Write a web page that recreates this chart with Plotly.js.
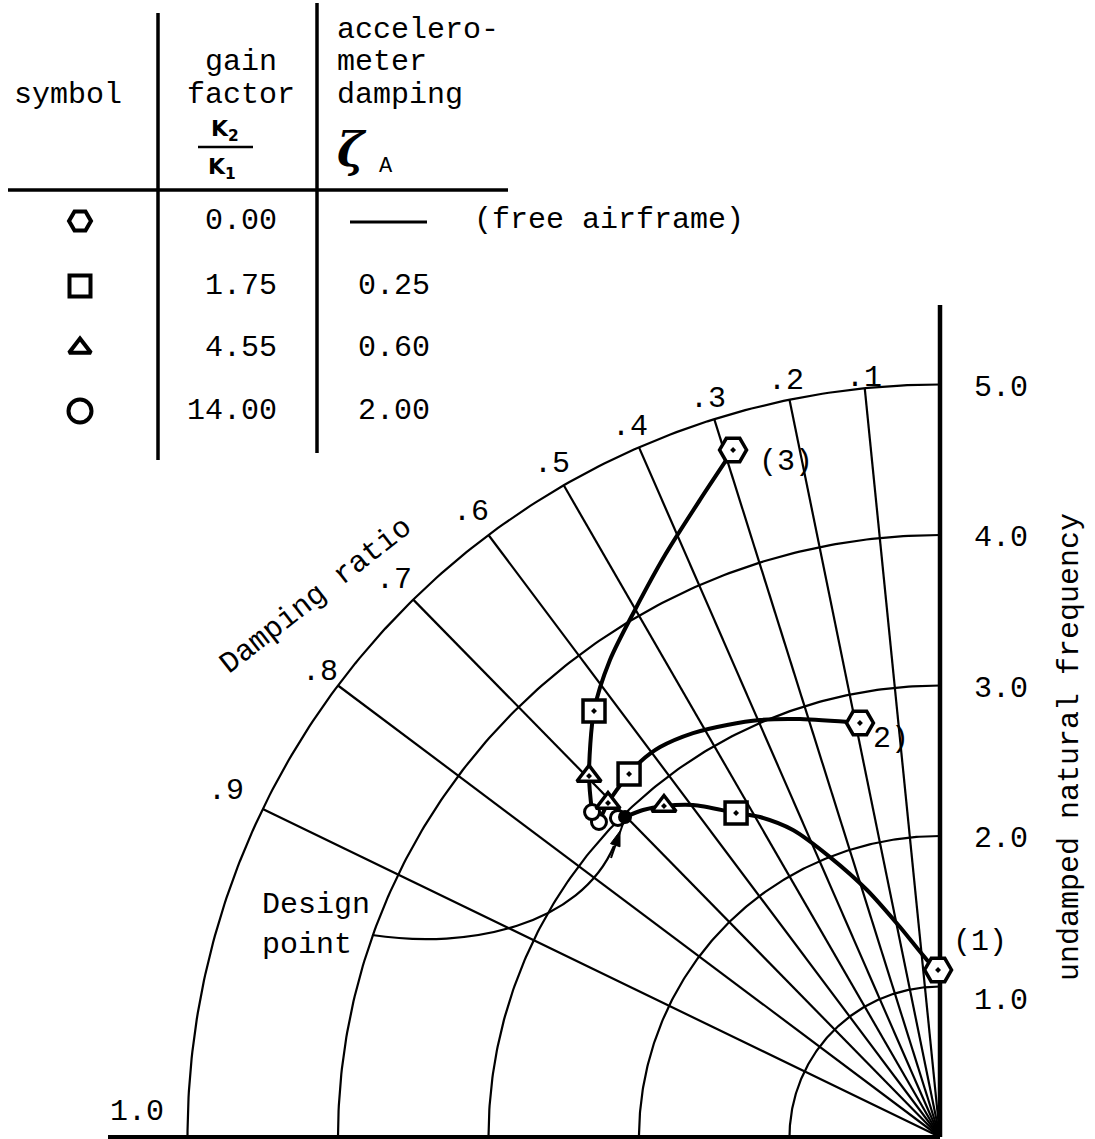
<!DOCTYPE html>
<html>
<head>
<meta charset="utf-8">
<script src="https://cdn.plot.ly/plotly-3.0.1.min.js"></script>
<style>html,body{margin:0;padding:0;background:#fff;}</style>
</head>
<body>
<div id="chart" style="width:1095px;height:1139px;"></div>
<script>
// ---------------- data ----------------
const freqCircles = [1, 2, 3, 4, 5];                       // undamped natural frequency circles
const freqLabels = ['1.0', '2.0', '3.0', '4.0', '5.0'];
const dampingRatios = [0.1, 0.2, 0.3, 0.4, 0.5, 0.6, 0.7, 0.8, 0.9];
const dampingLabels = ['.1', '.2', '.3', '.4', '.5', '.6', '.7', '.8', '.9'];

const locus1X = [-0.013, -0.086, -0.266, -0.485, -0.731, -0.977, -1.196, -1.355, -1.641, -1.834, -1.973, -2.093];
const locus1Y = [1.110, 1.176, 1.395, 1.641, 1.860, 2.040, 2.126, 2.153, 2.206, 2.199, 2.173, 2.126];
const locus2X = [-0.532, -0.930, -1.196, -1.415, -1.641, -1.860, -1.993, -2.066, -2.206, -2.266];
const locus2Y = [2.751, 2.777, 2.771, 2.738, 2.684, 2.591, 2.492, 2.412, 2.219, 2.093];
const locus3X = [-1.375, -1.595, -1.827, -2.027, -2.193, -2.299, -2.332, -2.312];
const locus3Y = [4.565, 4.233, 3.867, 3.502, 3.169, 2.831, 2.399, 2.159];

// marked points: K2/K1 = 0 (free airframe), 1.75, 4.55, 14.00
const hexX = [-0.013, -0.532, -1.375];
const hexY = [1.110, 2.751, 4.565];
const hexLabels = ['(1)', '2)', '(3)'];
const squareX = [-1.355, -2.066, -2.299];
const squareY = [2.153, 2.412, 2.831];
const triX = [-1.834, -2.206, -2.332];
const triY = [2.199, 2.219, 2.399];
const circX = [-2.140, -2.266, -2.312];
const circY = [2.120, 2.093, 2.159];
const designX = [-2.093];
const designY = [2.126];

// table
const tableGain = ['0.00', '1.75', '4.55', '14.00'];
const tableAccDamping = ['', '0.25', '0.60', '2.00'];
const tableSymbols = ['hexagon2', 'square', 'triangle-up', 'circle'];

// ---------------- geometry (pixels) ----------------
const W = 1095, H = 1139, S = 150.5, OX = 940, OY = 1137;
const FONT = 'Liberation Mono, Courier New, monospace';
const FS = 30;
const BLK = 'black';
const px2x = p => (p - OX) / S, px2y = p => (OY - p) / S;

const traces = [];
const skip = {hoverinfo: 'skip', showlegend: false};

// frequency arcs
const rMax = Math.max(...freqCircles);
freqCircles.forEach(r => {
  const xs = [], ys = [];
  for (let i = 0; i <= 180; i++) {
    const t = i / 180 * Math.PI / 2;
    xs.push(-r * Math.sin(t)); ys.push(r * Math.cos(t));
  }
  traces.push(Object.assign({x: xs, y: ys, mode: 'lines', line: {color: BLK, width: 2.2}}, skip));
});
// damping-ratio rays
dampingRatios.forEach(z => {
  traces.push(Object.assign({x: [0, -rMax * z], y: [0, rMax * Math.sqrt(1 - z * z)],
    mode: 'lines', line: {color: BLK, width: 2.2}}, skip));
});
// axes (imaginary axis zeta=0 and real axis zeta=1)
traces.push(Object.assign({x: [0, 0], y: [0, px2y(305)], mode: 'lines', line: {color: BLK, width: 4.5}}, skip));
traces.push(Object.assign({x: [px2x(108), 0], y: [0, 0], mode: 'lines', line: {color: BLK, width: 4}}, skip));

// loci
[[locus1X, locus1Y], [locus2X, locus2Y], [locus3X, locus3Y]].forEach(([lx, ly]) => {
  traces.push(Object.assign({x: lx, y: ly, mode: 'lines',
    line: {color: BLK, width: 4, shape: 'spline', smoothing: 0.8}}, skip));
});

// markers
const mk = (x, y, sym, size, lw) => Object.assign({x: x, y: y, mode: 'markers',
  marker: {symbol: sym, size: size, color: 'white', line: {color: BLK, width: lw}}}, skip);
traces.push(mk(circX, circY, 'circle', 15, 3));
traces.push(mk(triX, triY, 'triangle-up-dot', 21, 3.5));
traces.push(mk(squareX, squareY, 'square-dot', 22, 3.5));
traces.push(mk(hexX, hexY, 'hexagon2-dot', 27, 3.5));
traces.push(Object.assign({x: designX, y: designY, mode: 'markers',
  marker: {symbol: 'circle', size: 14, color: BLK}}, skip));

// table symbols (legend column of the table), one trace per symbol
const tabRowsPx = [221, 286, 348, 411];
const tabSymSize = [22, 21, 19, 23];
tableSymbols.forEach((sym, i) => {
  traces.push(mk([px2x(80)], [px2y(tabRowsPx[i])], sym, tabSymSize[i], 4));
});

// ---------------- annotations ----------------
const ann = [];
const txt = (x, y, t, opt) => Object.assign({x: x, y: y, xref: 'x2', yref: 'y2', text: t, showarrow: false,
  font: {family: FONT, size: FS, color: BLK}, xanchor: 'center', yanchor: 'middle'}, opt || {});

// damping labels
const labelR = [5.07, 5.13, 5.14, 5.15, 5.16, 5.19, 5.18, 5.15, 5.27];
dampingRatios.forEach((z, i) => {
  const rl = labelR[i];
  ann.push({x: -rl * z, y: rl * Math.sqrt(1 - z * z), xref: 'x', yref: 'y', text: dampingLabels[i],
    showarrow: false, font: {family: FONT, size: FS, color: BLK}, xanchor: 'center', yanchor: 'middle'});
});
ann.push(txt(137, 1112, '1.0'));
ann.push(txt(316, 596, 'Damping ratio', {textangle: -38}));

// frequency labels
freqCircles.forEach((r, i) => {
  ann.push({x: px2x(1001), y: r, xref: 'x', yref: 'y', text: freqLabels[i], showarrow: false,
    font: {family: FONT, size: FS, color: BLK}, xanchor: 'center', yanchor: 'middle',
    yshift: r === 1 ? -14 : -3});
});
ann.push(txt(1070, 747, 'undamped natural frequency', {textangle: -90}));

// point labels
const hexOff = [[42, -28], [31, 16], [53, 12]];
hexX.forEach((x, i) => {
  ann.push({x: x, y: hexY[i], xref: 'x', yref: 'y', text: hexLabels[i], showarrow: false,
    font: {family: FONT, size: FS, color: BLK}, xanchor: 'center', yanchor: 'middle',
    xshift: hexOff[i][0], yshift: -hexOff[i][1]});
});

// design point label
ann.push(txt(260, 905, 'Design', {xanchor: 'left'}));
ann.push(txt(260, 945, 'point', {xanchor: 'left'}));

// table text
ann.push(txt(12, 95, 'symbol', {xanchor: 'left'}));
ann.push(txt(241, 62, 'gain'));
ann.push(txt(241, 95, 'factor'));
ann.push(txt(225, 130, '<b>K<sub>2</sub></b>', {font: {family: 'DejaVu Sans', size: 22, color: BLK}}));
ann.push(txt(222, 168, '<b>K<sub>1</sub></b>', {font: {family: 'DejaVu Sans', size: 22, color: BLK}}));
ann.push(txt(335, 30, 'accelero-', {xanchor: 'left'}));
ann.push(txt(335, 62, 'meter', {xanchor: 'left'}));
ann.push(txt(335, 95, 'damping', {xanchor: 'left'}));
ann.push(txt(352, 150, '<b><i>ζ</i></b>', {font: {family: 'DejaVu Serif', size: 46, color: BLK}}));
ann.push(txt(386, 166, 'A', {font: {family: FONT, size: 22, color: BLK}}));
tableGain.forEach((g, i) => ann.push(txt(279, tabRowsPx[i], g, {xanchor: 'right'})));
tableAccDamping.forEach((g, i) => { if (g) ann.push(txt(394, tabRowsPx[i], g)); });
ann.push(txt(472, 220, '(free airframe)', {xanchor: 'left'}));

// ---------------- shapes ----------------
const ln = (x0, y0, x1, y1, w) => ({type: 'line', xref: 'x2', yref: 'y2', x0: x0, y0: y0, x1: x1, y1: y1,
  line: {color: BLK, width: w}});
// arrow toward the design point
const tail = [611, 858], tip = [620, 831];
const dx = tip[0] - tail[0], dy = tip[1] - tail[1], dl = Math.hypot(dx, dy);
const ux = dx / dl, uy = dy / dl, hl = 15, hw = 5;
const bx = tip[0] - hl * ux, by = tip[1] - hl * uy;
const head = 'M ' + tip[0] + ' ' + tip[1] + ' L ' + (bx + hw * uy) + ' ' + (by - hw * ux) +
  ' L ' + (bx - hw * uy) + ' ' + (by + hw * ux) + ' Z';
const shapes = [
  ln(158, 13, 158, 460, 3.5), ln(317, 3, 317, 453, 3.5), ln(8, 190, 508, 190, 3.5),
  ln(198, 147, 253, 147, 2.5), ln(350, 222, 427, 222, 3),
  ln(tail[0], tail[1], 625, 818, 2),
  {type: 'path', xref: 'x2', yref: 'y2', path: head, fillcolor: BLK, line: {color: BLK, width: 1}},
  {type: 'path', xref: 'x2', yref: 'y2', path: 'M 372 935 C 470 950 580 925 614 846',
   line: {color: BLK, width: 2.2}}
];

const layout = {
  width: W, height: H, margin: {l: 0, r: 0, t: 0, b: 0},
  paper_bgcolor: 'white', plot_bgcolor: 'white', showlegend: false,
  xaxis: {range: [-OX / S, (W - OX) / S], visible: false, fixedrange: true},
  yaxis: {range: [(OY - H) / S, OY / S], visible: false, fixedrange: true},
  xaxis2: {range: [0, W], overlaying: 'x', anchor: 'y2', visible: false, fixedrange: true},
  yaxis2: {range: [H, 0], overlaying: 'y', anchor: 'x2', visible: false, fixedrange: true},
  annotations: ann, shapes: shapes
};
Plotly.newPlot('chart', traces, layout, {staticPlot: true, displayModeBar: false});
</script>
</body>
</html>
